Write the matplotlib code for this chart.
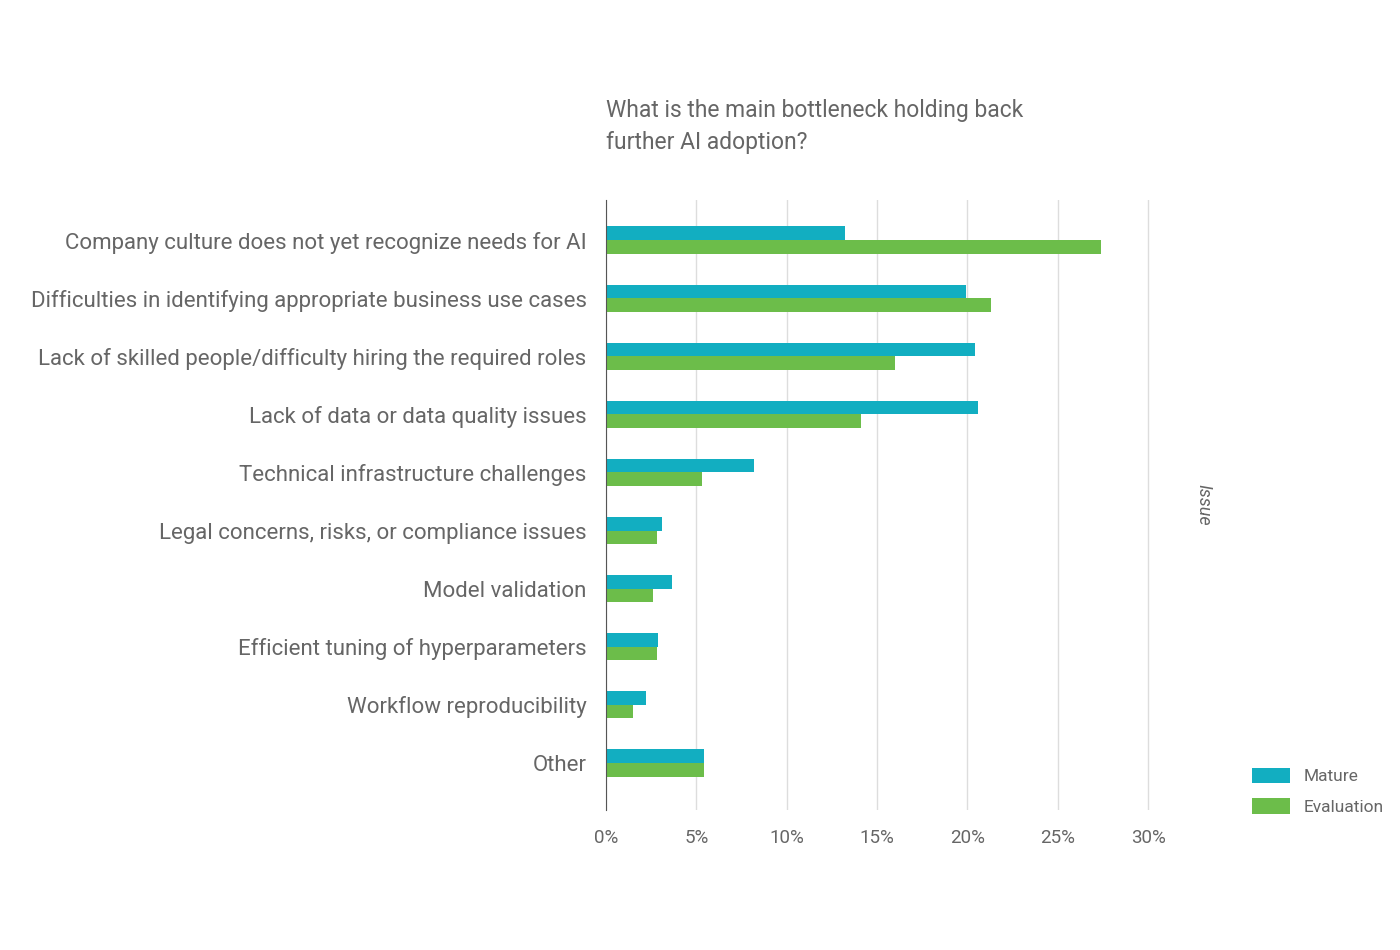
import matplotlib
matplotlib.use("Agg")
import matplotlib.pyplot as plt
import numpy as np
from matplotlib.ticker import FuncFormatter

plt.rcParams['font.family'] = ['Roboto', 'DejaVu Sans']

categories = [
    "Company culture does not yet recognize needs for AI",
    "Difficulties in identifying appropriate business use cases",
    "Lack of skilled people/difficulty hiring the required roles",
    "Lack of data or data quality issues",
    "Technical infrastructure challenges",
    "Legal concerns, risks, or compliance issues",
    "Model validation",
    "Efficient tuning of hyperparameters",
    "Workflow reproducibility",
    "Other",
]
mature = [13.2, 19.9, 20.4, 20.6, 8.2, 3.1, 3.65, 2.9, 2.2, 5.4]
evaluation = [27.4, 21.3, 16.0, 14.1, 5.3, 2.8, 2.6, 2.8, 1.5, 5.4]
series_names = ["Mature", "Evaluation"]
xticks = [0, 5, 10, 15, 20, 25, 30]

c_mature = "#12AEC1"
c_eval = "#6CBD4A"
txt = "#666666"

fig = plt.figure(figsize=(14, 9.5), dpi=100)
ax = fig.add_axes([606/1400, 1 - 810/950, (1150 - 606)/1400, (810 - 200)/950])

y = np.arange(len(categories))
h = 0.235
ax.barh(y - h/2, mature, height=h, color=c_mature, label=series_names[0])
ax.barh(y + h/2, evaluation, height=h, color=c_eval, label=series_names[1])

ax.set_ylim(len(categories) - 1 + 0.81, -0.69)
ax.set_xlim(0, 30.1)
ax.set_xticks(xticks)
ax.xaxis.set_major_formatter(FuncFormatter(lambda v, p: f"{v:.0f}%"))
ax.set_yticks(y)
ax.set_yticklabels(categories)
ax.grid(axis='x', color='#dddddd', linewidth=1)
ax.set_axisbelow(True)
for s in ['top', 'right', 'bottom']:
    ax.spines[s].set_visible(False)
ax.spines['left'].set_color('#555555')
ax.tick_params(axis='y', length=0, pad=14, labelsize=16, labelcolor=txt)
ax.tick_params(axis='x', length=0, pad=14, labelsize=13.5, labelcolor=txt)

fig.text(606/1400, 1 - 126/950, "What is the main bottleneck holding back\nfurther AI adoption?",
         fontsize=16.5, color=txt, ha='left', va='center', linespacing=1.5)

fig.text(1203/1400, 1 - 505/950, "Issue", rotation=270, style='italic', fontsize=13,
         color=txt, ha='center', va='center')

leg = fig.legend(loc='upper left', bbox_to_anchor=(1236/1400, 1 - 752/950), frameon=False,
                 fontsize=12.5, labelcolor=txt, handlelength=2.2, handleheight=1.0,
                 labelspacing=0.8, handletextpad=0.8)

fig.savefig("out.png", dpi=100, facecolor='white')
